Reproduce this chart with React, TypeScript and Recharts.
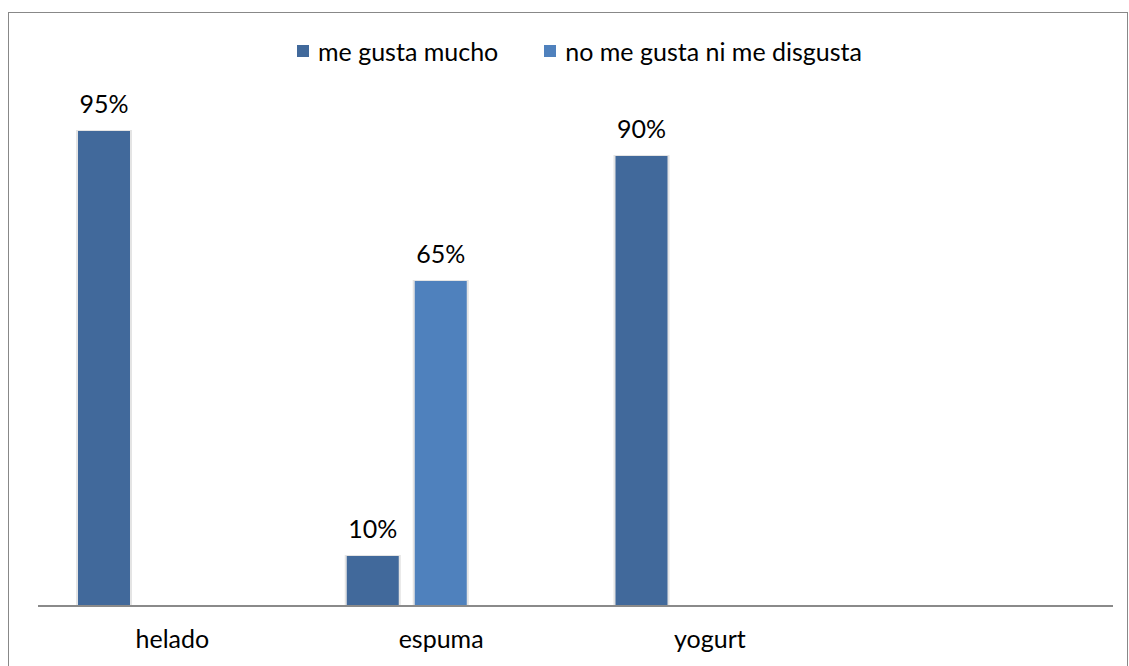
import React from 'react';
import { BarChart, Bar, XAxis, YAxis, LabelList } from 'recharts';

const categories = ['helado', 'espuma', 'yogurt', ''];
const meGustaMucho = [0.95, 0.1, 0.9, null];
const noMeGustaNiMeDisgusta = [null, 0.65, null, null];
// third series of the source sheet has no values, but still reserves its slot
const sinDatos = [null, null, null, null];

const seriesNames = ['me gusta mucho', 'no me gusta ni me disgusta'];
const seriesColors = ['#41699B', '#4F81BD'];

const FONT = 'Lato, "Liberation Sans", sans-serif';
const FS = 25;

const data = categories.map((name, i) => ({
  name,
  s1: meGustaMucho[i],
  s2: noMeGustaNiMeDisgusta[i],
  s3: sinDatos[i],
}));

const pct = (v: any) => (v == null ? '' : `${Math.round(v * 100)}%`);

// bar with a soft grey shadow on its sides, like the office chart
const ShadowBar = (props: any) => {
  const { x, y, width, height, fill } = props;
  if (!height || height <= 0) return null;
  return (
    <g>
      <rect x={x - 2} y={y - 1} width={width + 4} height={height + 1} fill="#e4e4e4" />
      <rect x={x} y={y} width={width} height={height} fill={fill} />
    </g>
  );
};

const CategoryTick = (props: any) => {
  const { x, y, payload } = props;
  return (
    <text x={x} y={y + 34} textAnchor="middle" fill="#000" fontSize={FS} fontFamily={FONT}>
      {payload.value}
    </text>
  );
};

const App: React.FC = () => {
  return (
    <div style={{ position: 'absolute', left: 0, top: 0, width: 1129, height: 666, overflow: 'hidden', background: '#fff' }}>
      <div
        style={{
          position: 'absolute',
          left: 8,
          top: 12,
          width: 1120,
          height: 700,
          border: '1px solid #888',
          boxSizing: 'border-box',
        }}
      />
      <div
        style={{
          position: 'absolute',
          left: 297,
          top: 39,
          display: 'flex',
          alignItems: 'center',
          gap: 46,
          fontFamily: FONT,
          fontSize: FS,
          lineHeight: '24px',
          color: '#000',
        }}
      >
        {seriesNames.map((n, i) => (
          <div key={n} style={{ display: 'flex', alignItems: 'center' }}>
            <span style={{ display: 'inline-block', width: 12, height: 12, background: seriesColors[i], marginRight: 9 }} />
            <span>{n}</span>
          </div>
        ))}
      </div>
      <div style={{ position: 'absolute', left: 0, top: 0 }}>
        <BarChart
          width={1129}
          height={666}
          data={data}
          margin={{ top: 106, right: 16, left: 38, bottom: 0 }}
          barSize={52}
          barGap={16}
        >
          <XAxis
            dataKey="name"
            height={60}
            tickLine={false}
            axisLine={{ stroke: '#8a8a8a', strokeWidth: 2 }}
            tick={<CategoryTick />}
            interval={0}
          />
          <YAxis hide domain={[0, 1]} />
          <Bar dataKey="s1" name={seriesNames[0]} fill={seriesColors[0]} shape={<ShadowBar />} isAnimationActive={false}>
            <LabelList dataKey="s1" position="top" offset={18} formatter={pct} fill="#000" fontSize={FS} fontFamily={FONT} />
          </Bar>
          <Bar dataKey="s2" name={seriesNames[1]} fill={seriesColors[1]} shape={<ShadowBar />} isAnimationActive={false}>
            <LabelList dataKey="s2" position="top" offset={18} formatter={pct} fill="#000" fontSize={FS} fontFamily={FONT} />
          </Bar>
          <Bar dataKey="s3" fill="#AA4643" shape={<ShadowBar />} isAnimationActive={false} />
        </BarChart>
      </div>
    </div>
  );
};

export default App;
